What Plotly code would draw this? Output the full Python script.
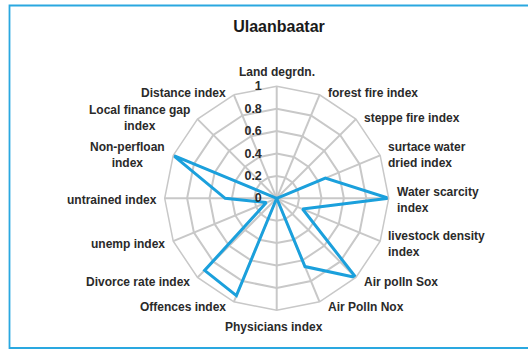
import math
import plotly.graph_objects as go

# Indicator names around the radar, clockwise from the top
categories = [
    "Land degrdn.",
    "forest fire index",
    "steppe fire index",
    "surtace water<br>dried index",
    "Water scarcity<br>index",
    "livestock density<br>index",
    "Air polln Sox",
    "Air Polln Nox",
    "Physicians index",
    "Offences index",
    "Divorce rate index",
    "unemp index",
    "untrained index",
    "Non-perfloan<br>index",
    "Local finance gap<br>index",
    "Distance index",
]

# Normalised index values for Ulaanbaatar
values = [0, 0, 0, 0.47, 1.0, 0.25, 1.0, 0.66, 0, 0.94, 0.91, 0.1, 0.46, 1.0, 0, 0]

radial_ticks = [0, 0.2, 0.4, 0.6, 0.8, 1]
radial_labels = ["0", "0.2", "0.4", "0.6", "0.8", "1"]

W, H = 528, 349
cx, cy, R = 276.7, 198.3, 112.0   # polar centre and outer radius, px

font_family = "Liberation Sans, Arial, sans-serif"
label_font = dict(family=font_family, size=12, color="#2a2a2a", weight="bold")

fig = go.Figure()
fig.add_trace(go.Scatterpolar(
    r=values + values[:1],
    theta=categories + categories[:1],
    mode="lines",
    line=dict(color="#1ba0dc", width=3),
    hoverinfo="skip",
    showlegend=False,
))

# Category labels set beside each spoke tip, spreadsheet style
annotations = []
n = len(categories)
for i, name in enumerate(categories):
    ang = math.radians(360.0 * i / n)
    s, c = math.sin(ang), math.cos(ang)
    vx = cx + R * s
    vy = cy - R * c
    if abs(s) < 0.1:
        if c > 0:
            px, py, xa, ya = vx, vy - 6, "center", "bottom"
        else:
            px, py, xa, ya = vx - 3, vy + 9, "center", "top"
        al = "center"
    else:
        px = vx + (7 if s > 0 else -7)
        py = vy + 1.5 - 4 * c
        xa = "left" if s > 0 else "right"
        ya = "middle"
        al = "left" if s > 0 else "center"
    annotations.append(dict(
        text=name, x=px / W, y=1 - py / H, xref="paper", yref="paper",
        xanchor=xa, yanchor=ya, align=al, showarrow=False,
        borderpad=0, font=label_font,
    ))

fig.update_layout(
    width=W, height=H,
    margin=dict(l=0, r=0, t=0, b=0),
    paper_bgcolor="white",
    plot_bgcolor="white",
    showlegend=False,
    title=dict(
        text="<b>Ulaanbaatar</b>",
        x=279 / W, xanchor="center",
        y=1 - 26 / H, yanchor="middle",
        font=dict(family=font_family, size=16, color="#1a1a1a"),
    ),
    polar=dict(
        domain=dict(x=[(cx - R) / W, (cx + R) / W],
                    y=[(H - cy - R) / H, (H - cy + R) / H]),
        bgcolor="white",
        gridshape="linear",
        angularaxis=dict(
            direction="clockwise",
            rotation=90,
            showline=True,
            linecolor="#c8c8c8",
            linewidth=1.5,
            gridcolor="#c8c8c8",
            gridwidth=1.5,
            ticks="",
            showticklabels=False,
        ),
        radialaxis=dict(
            range=[0, 1],
            angle=90,
            tickangle=90,
            side="counterclockwise",
            tickvals=radial_ticks,
            ticktext=radial_labels,
            showline=False,
            ticks="outside",
            ticklen=10,
            tickcolor="rgba(0,0,0,0)",
            gridcolor="#c8c8c8",
            gridwidth=1.5,
            tickfont=dict(family=font_family, size=12.5, color="#2a2a2a",
                          weight="bold"),
        ),
    ),
    annotations=annotations,
    shapes=[dict(
        type="rect", xref="paper", yref="paper",
        x0=9.5 / W, x1=1.02, y0=1.0 / H, y1=1 - 5.5 / H,
        line=dict(color="#2aa8e0", width=1.8),
        fillcolor="rgba(0,0,0,0)",
        layer="below",
    )],
)

fig.write_html("out.html")
